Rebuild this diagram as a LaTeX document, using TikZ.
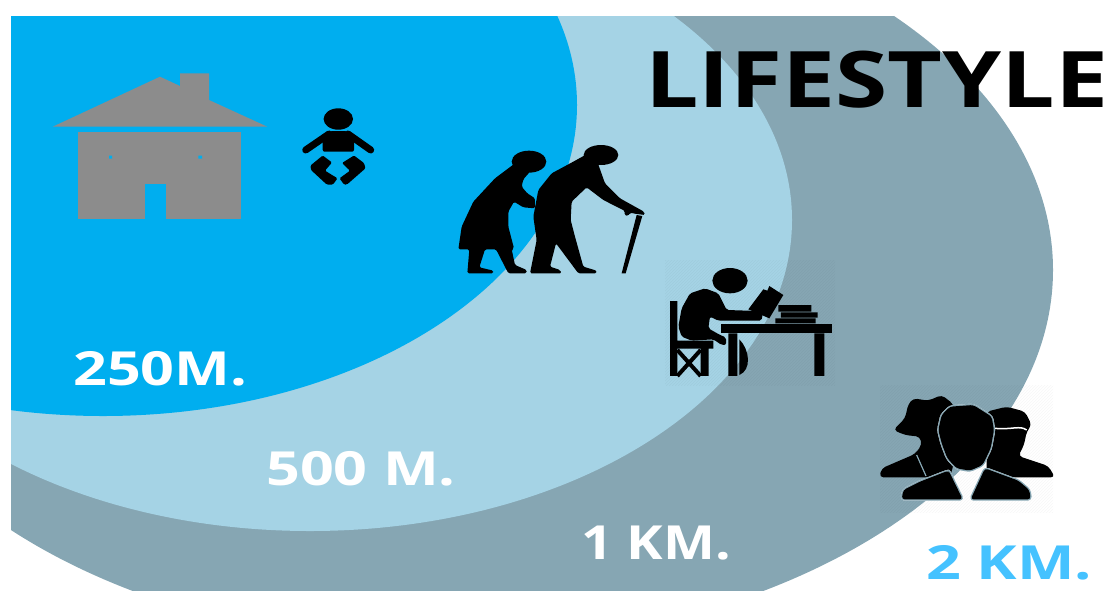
\documentclass[tikz,border=0pt]{standalone}
\usepackage{fontspec}
\setmainfont{Open Sans}
\usepackage{xcolor}
\usetikzlibrary{patterns}
\definecolor{zonedark}{HTML}{86A6B3}
\definecolor{zonelight}{HTML}{A5D3E5}
\definecolor{zoneblue}{HTML}{00AEEF}
\definecolor{housegray}{HTML}{8C8C8C}
\definecolor{skyblue}{HTML}{45C2FF}
\tikzset{
    every picture/.style={line join=round},
    icon/.style={fill=black,draw=none},
    hatchbox/.style={pattern=north east lines,pattern color=black,opacity=0.035,draw=none},
    distlabel/.style={font=\bfseries\fontsize{47}{47}\selectfont,text=white,
      inner sep=0pt,anchor=west,xscale=1.26,transform shape},
    titlelabel/.style={font=\bfseries\fontsize{78}{78}\selectfont,text=black,
      inner sep=0pt,anchor=west,xscale=1.215,transform shape}
}
\def\frontman{(240,80) -- (310,75) -- (365,110) -- (372,150) -- (362,205) -- (338,255) -- (300,272)
    -- (260,265) -- (232,235) -- (215,190) -- (205,150) -- (215,105) -- cycle
    (235,272) -- (150,305) -- (100,330) -- (95,358) -- (278,358) -- (240,280) -- cycle
    (345,265) -- (445,302) -- (478,330) -- (482,358) -- (302,358) -- cycle}
\begin{document}
\begin{tikzpicture}[x=1pt,y=-1pt]
    \useasboundingbox (0,0) rectangle (1110,590);
    % zones
    \begin{scope}
        \clip (11,16) rectangle (1110,590);
        \fill[zonedark] (448,270) ellipse [x radius=605,y radius=376];
        \fill[zonelight] (310,220) ellipse [x radius=482,y radius=311];
        \fill[zoneblue] (103,105) ellipse [x radius=474,y radius=311];
    \end{scope}
    \fill[hatchbox] (665,260) rectangle (835,385);
    \fill[hatchbox] (880,385) rectangle (1053,512);
    % house
    \fill[housegray] (52.7,126.7) -- (160,76.7) -- (180,86) -- (180,73.3) -- (209,73.3) -- (209,100) -- (267.3,126.7) -- cycle;
    \fill[housegray] (78.3,131.7) rectangle (240.7,219.3);
    \fill[zoneblue] (145,184) rectangle (166,219.3);
    \fill[zoneblue] (109,155.5) rectangle (112,158.5) (198.3,155.5) rectangle (202,158.5);
    % baby
    \fill[icon] (338.3,119) ellipse [x radius=14.7,y radius=10.7];
    \fill[icon,rounded corners=2pt] (322.7,151.7) -- (322.7,139) -- (330,131) -- (347,131) -- (354,139) -- (354,151.7) -- cycle;
    \draw[line width=7pt,line cap=round] (329,134) -- (305.7,150) (348,134) -- (370.7,150);
    \fill[icon,rounded corners=1.2pt] (322.7,155.5) -- (332,162.5) -- (325,170.7) -- (337.5,178.3) -- (333,184.5) -- (326.7,184.5) -- (311,170) -- (310.5,165.5) -- cycle;
    \fill[icon,rounded corners=1.2pt] (354,155.5) -- (342,163) -- (350,170.7) -- (339.5,178.3) -- (344,184.5) -- (347,184.5) -- (365.5,168.3) -- (364,163) -- cycle;
    % old couple
    \begin{scope}[shift={(440,130)},scale=0.3333]
        \fill[icon] (267,95) ellipse [x radius=52,y radius=33];
        \fill[icon,rounded corners=1.5pt] (225,100) -- (165,145) -- (100,215) -- (65,290) -- (55,358) -- (88,358) -- (82,430) -- (160,430) -- (160,422) -- (118,412) -- (135,358) -- (168,358) -- (205,430) -- (260,430) -- (260,420) -- (225,405) -- (215,358) -- (222,355) -- (205,290) -- (205,245) -- (222,215) -- (250,232) -- (285,235) -- (285,205) -- (262,190) -- (245,170) -- (250,148) -- (270,125) -- cycle;
        \fill[icon] (483,75) ellipse [x radius=52,y radius=30];
        \fill[icon,rounded corners=1.5pt] (445,70) -- (400,95) -- (335,130) -- (295,180) -- (280,260) -- (290,330) -- (270,430) -- (365,430) -- (360,420) -- (330,410) -- (348,340) -- (415,430) -- (470,430) -- (470,422) -- (430,410) -- (405,320) -- (392,270) -- (395,215) -- (440,172) -- (490,210) -- (555,243) -- (553,255) -- (565,258) -- (570,248) -- (590,252) -- (615,255) -- (612,245) -- (540,205) -- (495,160) -- (472,95) -- cycle;
        \fill[icon] (590,255) -- (607,258) -- (557,430) -- (545,430) -- cycle;
    \end{scope}
    % student
    \begin{scope}[shift={(650,250)},scale=0.3333]
        \fill[icon] (240,92) ellipse [x radius=53,y radius=38];
        \fill[icon,rounded corners=2pt] (165,115) -- (120,130) -- (95,175) -- (85,230) -- (95,260) -- (125,272) -- (190,268) -- (215,285) -- (228,285) -- (228,262) -- (210,255) -- (175,235) -- (180,200) -- (205,212) -- (335,212) -- (338,190) -- (325,183) -- (230,180) -- (205,130) -- cycle;
        \fill[icon] (340,118) -- (295,178) -- (358,205) -- (400,135) -- (358,108) -- (352,122) -- cycle;
        \fill[icon] (212,222) rectangle (545,250);
        \fill[icon] (235,250) rectangle (262,378) (493,250) rectangle (523,378);
        \fill[icon] (268,268) .. controls (300,300) and (305,360) .. (268,375) -- cycle;
        \fill[icon] (60,153) rectangle (82,378) (60,272) rectangle (190,296) (152,296) rectangle (176,378);
        \draw[line width=4pt] (82,300) -- (152,378) (152,300) -- (82,378);
        \fill[icon] (385,165) rectangle (484,185) (393,187) rectangle (503,203) (376,205) rectangle (497,220);
    \end{scope}
    % people
    \begin{scope}[shift={(870,380)},scale=0.3333]
        \fill[icon,rounded corners=4pt] (115,72) -- (130,55) -- (175,62) -- (215,45) -- (250,72) -- (265,200) -- (240,292) -- (28,292) -- (35,265) -- (135,222) -- (155,195) -- (150,170) -- (105,165) -- (70,150) -- (105,115) -- cycle;
        \draw[zonedark,line width=1.2pt] (140,225) -- (168,288);
        \fill[icon,rounded corners=4pt] (350,95) -- (410,80) -- (465,95) -- (485,135) -- (470,155) -- (462,195) -- (445,228) -- (535,258) -- (555,292) -- (350,292) -- cycle;
        \draw[white,line width=1.5pt] (375,145) .. controls (425,150) and (450,135) .. (470,150);
        \draw[white,line width=2.7pt,rounded corners=3pt] \frontman;
        \begin{scope}
            \clip[shift={(-870,-380)},scale=3.0003] (448,270) ellipse [x radius=605,y radius=376];
            \draw[zonedark,line width=2.7pt,rounded corners=3pt] \frontman;
        \end{scope}
        \fill[icon,rounded corners=3pt] \frontman;
    \end{scope}
    % labels
    \node[distlabel] (near) at (73,368.5) {250M.};
    \node[distlabel] (mid) at (266,468.5) {500 M.};
    \node[distlabel,xscale=0.93] (far) at (581,543) {1 KM.};
    \node[distlabel,xscale=1.03,text=skyblue] (farthest) at (926,563) {2 KM.};
    \node[titlelabel] (title) at (645,80) {LIFESTYLE};
\end{tikzpicture}
\end{document}
